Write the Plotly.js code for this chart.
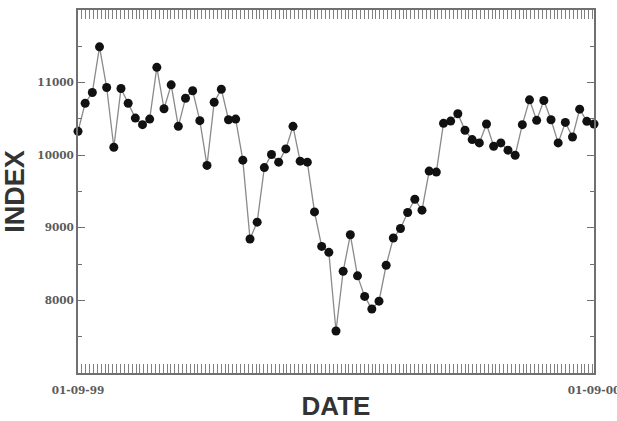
<!DOCTYPE html>
<html>
<head>
<meta charset="utf-8">
<script src="https://cdn.plot.ly/plotly-3.0.1.min.js"></script>
<style>html,body{margin:0;padding:0;background:#fff;}#chart{width:617px;height:421px;}</style>
</head>
<body>
<div id="chart"></div>
<script>
// Observation index (evenly spaced dates between the two labelled ends)
const obsIndex = [];
const indexValues = [
  10329, 10716, 10863, 11493, 10932, 10110, 10918, 10716, 10511, 10421,
  10497, 11210, 10640, 10969, 10398, 10785, 10887, 10476, 9859, 10730,
  10909, 10489, 10497, 9932, 8845, 9078, 9829, 10010, 9904, 10087,
  10398, 9918, 9904, 9219, 8744, 8662, 7579, 8401, 8904, 8338,
  8055, 7881, 7990, 8484, 8859, 8990, 9210, 9393, 9243, 9781,
  9767, 10439, 10470, 10571, 10343, 10215, 10169, 10429, 10124, 10169,
  10069, 10000, 10421, 10763, 10480, 10754, 10489, 10169, 10452, 10251,
  10634, 10466, 10429
];
for (let i = 0; i < indexValues.length; i++) obsIndex.push(i);
const dateLabels = ["01-09-99", "01-09-00"];
const yTicks = [8000, 9000, 10000, 11000];

const lastIdx = obsIndex[obsIndex.length - 1];

const trace = {
  x: obsIndex,
  y: indexValues,
  type: 'scatter',
  mode: 'lines+markers',
  line: {color: '#8a8a8a', width: 1.3},
  marker: {color: '#111', size: 9},
  cliponaxis: false,
  hoverinfo: 'skip'
};

const frameColor = '#707070';
const tickFont = {family: 'DejaVu Serif', size: 10.5, color: '#5a5a5a', weight: 'bold'};

const layout = {
  width: 617,
  height: 421,
  margin: {l: 78, r: 23, t: 10, b: 48, pad: 0},
  paper_bgcolor: '#fff',
  plot_bgcolor: '#fff',
  showlegend: false,
  xaxis: {
    range: [0, lastIdx],
    tickvals: [0, lastIdx],
    ticktext: dateLabels,
    ticklabeloverflow: 'allow',
    ticklabelstandoff: 6,
    ticks: 'inside',
    ticklen: 9,
    tickwidth: 1,
    tickcolor: frameColor,
    minor: {dtick: 0.54, tick0: 0, ticks: 'inside', ticklen: 9, tickwidth: 1, tickcolor: '#808080', showgrid: false},
    showline: true,
    linecolor: frameColor,
    linewidth: 2,
    mirror: 'ticks',
    showgrid: false,
    zeroline: false,
    tickfont: tickFont,
    title: {text: 'DATE', font: {family: 'Liberation Sans', size: 26, color: '#333', weight: 'bold'}, standoff: 2}
  },
  yaxis: {
    range: [7000, 12000],
    tickvals: yTicks,
    ticktext: yTicks.map(String),
    ticks: 'inside',
    ticklen: 7,
    tickwidth: 1,
    tickcolor: frameColor,
    minor: {dtick: 500, tick0: 7000, ticks: 'inside', ticklen: 4, tickwidth: 1, tickcolor: frameColor, showgrid: false},
    showline: true,
    linecolor: frameColor,
    linewidth: 2,
    mirror: 'ticks',
    showgrid: false,
    zeroline: false,
    tickfont: tickFont,
    title: {text: 'INDEX', font: {family: 'Liberation Sans', size: 27, color: '#333', weight: 'bold'}, standoff: 6}
  }
};

Plotly.newPlot('chart', [trace], layout, {displayModeBar: false, staticPlot: true});
</script>
</body>
</html>
